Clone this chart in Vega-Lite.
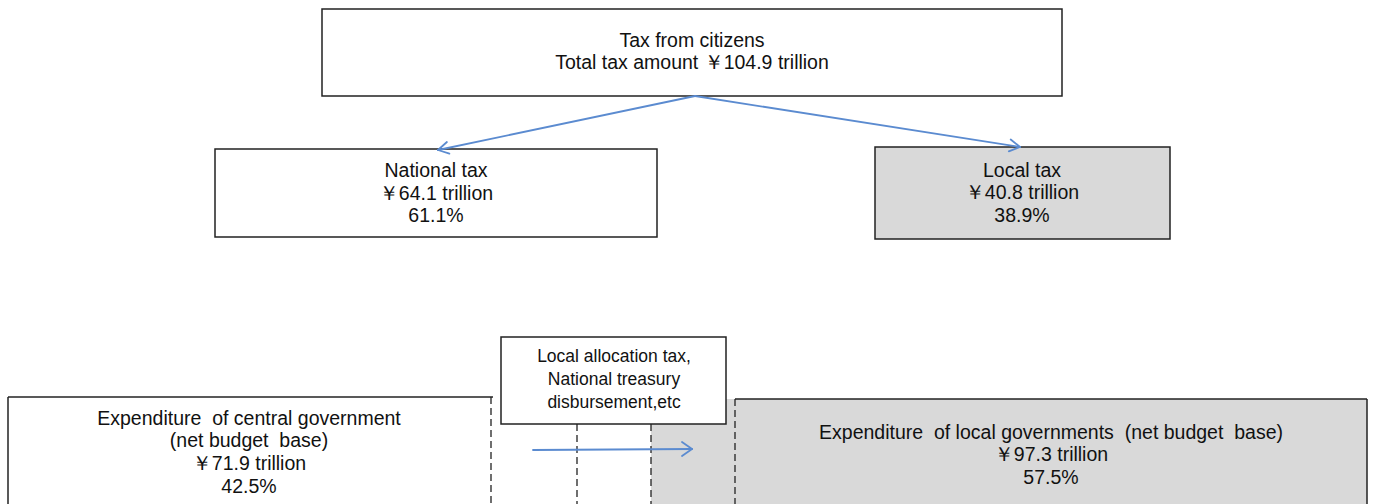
{
  "$schema": "https://vega.github.io/schema/vega-lite/v6.json",
  "width": 1374,
  "height": 504,
  "autosize": {"type": "fit", "contains": "padding"},
  "padding": 0,
  "background": "white",
  "config": {"view": {"stroke": null}},
  "datasets": {
    "openBoxes": [
      {"x": 8, "x2": 491, "y": 397, "y2": 515, "tone": "white"},
      {"x": 651, "x2": 1367, "y": 399, "y2": 515, "tone": "gray"}
    ],
    "framedBoxes": [
      {"name": "top", "x": 322, "x2": 1062, "y": 9, "y2": 96, "tone": "white"},
      {"name": "national", "x": 215, "x2": 657, "y": 149, "y2": 237, "tone": "white"},
      {"name": "local", "x": 875, "x2": 1170, "y": 147, "y2": 239, "tone": "gray"},
      {"name": "transfer", "x": 501, "x2": 726, "y": 337, "y2": 424, "tone": "white"}
    ],
    "solidEdges": [
      {"x": 8, "x2": 493, "y": 397, "y2": 397},
      {"x": 8, "x2": 8, "y": 397, "y2": 515},
      {"x": 735, "x2": 1367, "y": 399, "y2": 399},
      {"x": 1367, "x2": 1367, "y": 399, "y2": 515}
    ],
    "dashedEdges": [
      {"x": 491, "x2": 491, "y": 397, "y2": 515},
      {"x": 577, "x2": 577, "y": 424, "y2": 515},
      {"x": 651, "x2": 651, "y": 424, "y2": 515},
      {"x": 735, "x2": 735, "y": 399, "y2": 515}
    ],
    "arrows": [
      {"x": 695, "y": 96, "x2": 438, "y2": 150},
      {"x": 438, "y": 150, "x2": 449.4, "y2": 153.7},
      {"x": 438, "y": 150, "x2": 446.9, "y2": 142},
      {"x": 695, "y": 96, "x2": 1020, "y2": 147},
      {"x": 1020, "y": 147, "x2": 1010.7, "y2": 139.5},
      {"x": 1020, "y": 147, "x2": 1008.8, "y2": 151.3},
      {"x": 533, "y": 450, "x2": 692, "y2": 449},
      {"x": 692, "y": 449, "x2": 682, "y2": 442},
      {"x": 692, "y": 449, "x2": 682, "y2": 456}
    ],
    "labels": [
      {"x": 692, "y": 41, "text": "Tax from citizens"},
      {"x": 692, "y": 63, "text": "Total tax amount ￥104.9 trillion"},
      {"x": 436, "y": 171, "text": "National tax"},
      {"x": 436, "y": 194, "text": "￥64.1 trillion"},
      {"x": 436, "y": 216, "text": "61.1%"},
      {"x": 1022, "y": 171, "text": "Local tax"},
      {"x": 1022, "y": 193, "text": "￥40.8 trillion"},
      {"x": 1022, "y": 216, "text": "38.9%"},
      {"x": 249, "y": 419, "text": "Expenditure\u00a0 of central government"},
      {"x": 249, "y": 441, "text": "(net budget\u00a0 base)"},
      {"x": 249, "y": 464, "text": "￥71.9 trillion"},
      {"x": 249, "y": 487, "text": "42.5%"},
      {"x": 1051, "y": 433, "text": "Expenditure\u00a0 of local governments\u00a0 (net budget\u00a0 base)"},
      {"x": 1051, "y": 455, "text": "￥97.3 trillion"},
      {"x": 1051, "y": 478, "text": "57.5%"}
    ],
    "smallLabels": [
      {"x": 614, "y": 357, "text": "Local allocation tax,"},
      {"x": 614, "y": 380, "text": "National treasury"},
      {"x": 614, "y": 403, "text": "disbursement,etc"}
    ]
  },
  "encoding": {
    "x": {"field": "x", "type": "quantitative", "scale": {"domain": [0, 1374], "nice": false, "zero": false}, "axis": null},
    "y": {"field": "y", "type": "quantitative", "scale": {"domain": [0, 504], "nice": false, "zero": false, "reverse": true}, "axis": null}
  },
  "layer": [
    {
      "data": {"name": "openBoxes"},
      "mark": {"type": "rect", "clip": true},
      "encoding": {
        "x2": {"field": "x2"},
        "y2": {"field": "y2"},
        "color": {"field": "tone", "type": "nominal", "scale": {"domain": ["white", "gray"], "range": ["#ffffff", "#d9d9d9"]}, "legend": null}
      }
    },
    {
      "data": {"name": "dashedEdges"},
      "mark": {"type": "rule", "clip": true, "color": "#222222", "strokeWidth": 1.3, "strokeDash": [7, 4]},
      "encoding": {"x2": {"field": "x2"}, "y2": {"field": "y2"}}
    },
    {
      "data": {"name": "solidEdges"},
      "mark": {"type": "rule", "clip": true, "color": "#222222", "strokeWidth": 1.5},
      "encoding": {"x2": {"field": "x2"}, "y2": {"field": "y2"}}
    },
    {
      "data": {"name": "framedBoxes"},
      "mark": {"type": "rect", "stroke": "#222222", "strokeWidth": 1.5},
      "encoding": {
        "x2": {"field": "x2"},
        "y2": {"field": "y2"},
        "color": {"field": "tone", "type": "nominal", "scale": {"domain": ["white", "gray"], "range": ["#ffffff", "#d9d9d9"]}, "legend": null}
      }
    },
    {
      "data": {"name": "arrows"},
      "mark": {"type": "rule", "color": "#5b8bd0", "strokeWidth": 1.8, "strokeCap": "round"},
      "encoding": {"x2": {"field": "x2"}, "y2": {"field": "y2"}}
    },
    {
      "data": {"name": "labels"},
      "mark": {"type": "text", "font": "Liberation Sans", "fontSize": 19.5, "color": "#111111", "align": "center", "baseline": "middle"},
      "encoding": {"text": {"field": "text"}}
    },
    {
      "data": {"name": "smallLabels"},
      "mark": {"type": "text", "font": "Liberation Sans", "fontSize": 17.5, "color": "#111111", "align": "center", "baseline": "middle"},
      "encoding": {"text": {"field": "text"}}
    }
  ]
}
